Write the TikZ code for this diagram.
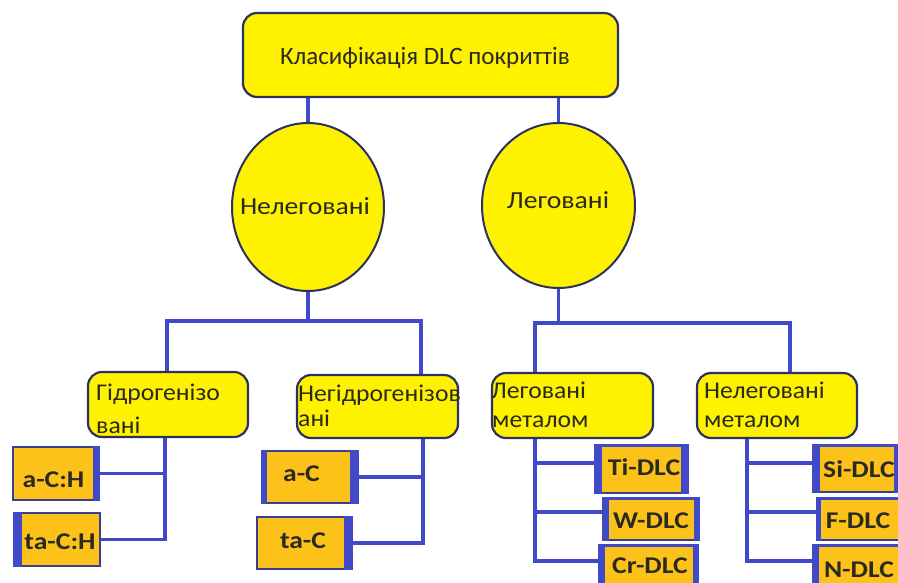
\documentclass[tikz,border=0pt]{standalone}
\usepackage{fontspec}
\setmainfont{Carlito}[FakeStretch=1.15]
\newfontfamily\topfont{Carlito}[FakeStretch=1.0]
\newfontfamily\lvfont{Carlito}[FakeStretch=1.07]
\newfontfamily\cfont{Carlito}[FakeStretch=1.13]
\usetikzlibrary{shapes.geometric,backgrounds}
\definecolor{yel}{HTML}{FFF200}
\definecolor{org}{HTML}{FDC21A}
\definecolor{lnblue}{HTML}{4049C8}
\definecolor{edge}{HTML}{2E3160}
\definecolor{obord}{HTML}{3A4090}
\definecolor{txt}{HTML}{2A2A20}
\begin{document}
\begin{tikzpicture}[x=1pt,y=-1pt,
  yelbox/.style={draw=edge, line width=2.2pt, fill=yel, rounded corners=14pt, inner sep=0pt},
  circ/.style={ellipse, draw=edge, line width=2pt, fill=yel, inner sep=0pt},
  orgbox/.style={draw=obord, line width=1.8pt, fill=org, inner sep=0pt},
  conn/.style={draw=lnblue, line width=3.6pt},
  lbl/.style={anchor=base west, inner sep=0pt, text=txt, font=\lvfont\fontsize{24}{28}\selectfont},
  clbl/.style={anchor=base, inner sep=0pt, text=txt, font=\cfont\fontsize{24.5}{28}\selectfont},
  blbl/.style={anchor=base, inner sep=0pt, text=txt, font=\bfseries\fontsize{24}{28}\selectfont},
  stripe/.style={fill=lnblue}]
\useasboundingbox (0,0) rectangle (898,582);
\clip (0,0) rectangle (898,582);

% level 0
\node[yelbox, minimum width=375, minimum height=84] (top) at (430.5,55) {};
\node[anchor=base, inner sep=0pt, text=txt, font=\topfont\fontsize{25}{29}\selectfont] (toptxt) at (425,64) {Класифікація DLC покриттів};

% level 1
\node[circ, minimum width=152, minimum height=168] (L) at (308,207) {};
\node[clbl] (Ltxt) at (305,214) {Нелеговані};
\node[circ, minimum width=153, minimum height=165] (R) at (558.5,205.5) {};
\node[clbl] (Rtxt) at (558,208) {Леговані};

% level 2
\node[yelbox, minimum width=160, minimum height=65] (G) at (168,404.5) {};
\node[yelbox, minimum width=161, minimum height=63] (NG) at (377.5,406.5) {};
\node[yelbox, minimum width=161, minimum height=65] (LM) at (572.5,405.5) {};
\node[yelbox, minimum width=160, minimum height=65] (NM) at (777,405.5) {};
\node[lbl] (G1) at (96,400) {Гідрогенізо};
\node[lbl] (G2) at (96,433) {вані};
\node[lbl] (NG1) at (298,401) {Негідрогенізов};
\node[lbl] (NG2) at (298,426) {ані};
\node[lbl] (LM1) at (491,398) {Леговані};
\node[lbl] (LM2) at (492,427) {металом};
\node[lbl] (NM1) at (704,398) {Нелеговані};
\node[lbl] (NM2) at (704,427) {металом};

% level 3
\node[orgbox, minimum width=86, minimum height=53] (aCH) at (56,473.5) {};
\node[orgbox, minimum width=86, minimum height=53] (taCH) at (57,539.5) {};
\node[orgbox, minimum width=96, minimum height=52] (aC) at (310,477) {};
\node[orgbox, minimum width=95, minimum height=52] (taC) at (304.5,543) {};
\node[orgbox, minimum width=93, minimum height=48] (Ti) at (641.5,469) {};
\node[orgbox, minimum width=96, minimum height=42] (W) at (651,519) {};
\node[orgbox, minimum width=99, minimum height=55] (Cr) at (648.5,572.5) {};
\node[orgbox, minimum width=84, minimum height=47] (Si) at (855,468.5) {};
\node[orgbox, minimum width=90, minimum height=42] (F) at (862,519) {};
\node[orgbox, minimum width=92, minimum height=55] (N) at (859,572.5) {};

% stripes
\fill[stripe] (aCH.north east) rectangle ([xshift=-7pt]aCH.south east);
\fill[stripe] (taCH.north west) rectangle ([xshift=9pt]taCH.south west);
\fill[stripe] (aC.north west) rectangle ([xshift=6pt]aC.south west);
\fill[stripe] (aC.north east) rectangle ([xshift=-9pt]aC.south east);
\fill[stripe] (taC.north east) rectangle ([xshift=-9pt]taC.south east);
\fill[stripe] (Ti.north west) rectangle ([xshift=8pt]Ti.south west);
\fill[stripe] (Ti.north east) rectangle ([xshift=-8pt]Ti.south east);
\fill[stripe] (Ti.north west) rectangle ([yshift=-3pt]Ti.north east);
\fill[stripe] (W.north west) rectangle ([xshift=7pt]W.south west);
\fill[stripe] (W.north east) rectangle ([xshift=-6pt]W.south east);
\fill[stripe] (W.north west) rectangle ([yshift=-3pt]W.north east);
\fill[stripe] (Cr.north west) rectangle ([xshift=7pt]Cr.south west);
\fill[stripe] (Cr.north east) rectangle ([xshift=-6pt]Cr.south east);
\fill[stripe] (Cr.north west) rectangle ([yshift=-3pt]Cr.north east);
\fill[stripe] (Si.north west) rectangle ([xshift=8pt]Si.south west);
\fill[stripe] (Si.north east) rectangle ([xshift=-4pt]Si.south east);
\fill[stripe] (Si.north west) rectangle ([yshift=-3pt]Si.north east);
\fill[stripe] (F.north west) rectangle ([xshift=5pt]F.south west);
\fill[stripe] (F.north west) rectangle ([yshift=-3pt]F.north east);
\fill[stripe] (N.north west) rectangle ([xshift=7pt]N.south west);
\fill[stripe] (N.north west) rectangle ([yshift=-3pt]N.north east);

\node[blbl] (aCHt) at (53.5,487) {a-C:H};
\node[blbl] (taCHt) at (60,549) {ta-C:H};
\node[blbl] (aCt) at (301.5,481) {a-C};
\node[blbl] (taCt) at (303,548) {ta-C};
\node[blbl] (Tit) at (644,475) {Ti-DLC};
\node[blbl] (Wt) at (651,528) {W-DLC};
\node[blbl] (Crt) at (650,573) {Cr-DLC};
\node[blbl] (Sit) at (859,477) {Si-DLC};
\node[blbl] (Ft) at (858,528) {F-DLC};
\node[blbl] (Nt) at (859,577) {N-DLC};

% junction coordinates
\coordinate (bl) at (0,321);
\coordinate (br) at (0,323);
\coordinate (gx) at (167,0);
\coordinate (ngx) at (421,0);
\coordinate (lmx) at (535,0);
\coordinate (nmx) at (790,0);
\coordinate (gs) at (165,0);
\coordinate (ngs) at (423,0);
\coordinate (lms) at (535,0);
\coordinate (nms) at (747,0);

\begin{pgfonlayer}{background}
\fill[white] (0,0) rectangle (898,582);
\draw[conn] (top.south -| L.north) -- (L.north);
\draw[conn] (top.south -| R.north) -- (R.north);
\draw[conn] (L.south) -- (L.south |- bl);
\draw[conn] (G.north -| gx) -- (gx |- bl) -- (ngx |- bl) -- (NG.north -| ngx);
\draw[conn] (R.south) -- (R.south |- br);
\draw[conn] (LM.north -| lmx) -- (lmx |- br) -- (nmx |- br) -- (NM.north -| nmx);
\draw[conn] (G.south -| gs) |- (aCH.east);
\draw[conn] (G.south -| gs) |- (taCH.east);
\draw[conn] (NG.south -| ngs) |- (aC.east);
\draw[conn] (NG.south -| ngs) |- (taC.east);
\draw[conn] (LM.south -| lms) |- (Ti.west |- 0,463);
\draw[conn] (LM.south -| lms) |- (W.west |- 0,512);
\draw[conn] (LM.south -| lms) |- (Cr.west |- 0,561);
\draw[conn] (NM.south -| nms) |- (Si.west |- 0,463);
\draw[conn] (NM.south -| nms) |- (F.west |- 0,512);
\draw[conn] (NM.south -| nms) |- (N.west |- 0,561);
\end{pgfonlayer}
\end{tikzpicture}
\end{document}
